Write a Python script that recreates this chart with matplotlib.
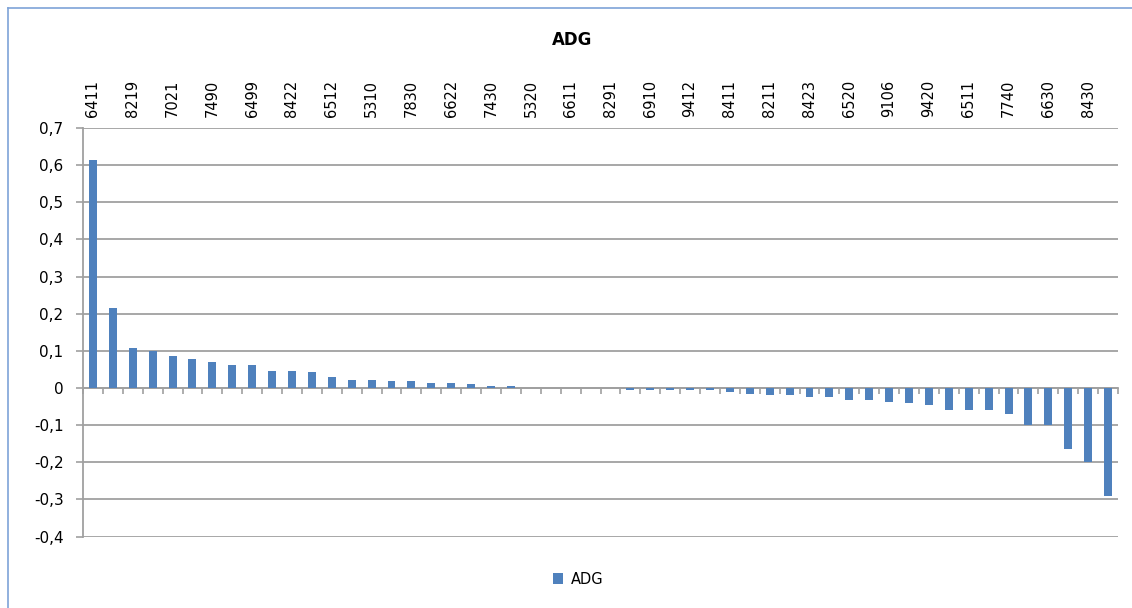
import matplotlib
matplotlib.use('Agg')
import matplotlib.pyplot as plt
from matplotlib.lines import Line2D
from matplotlib.ticker import FuncFormatter
import numpy as np

# category ids, in chart order (only every second one is labelled in the original)
codes = ['6411', '', '8219', '', '7021', '', '7490', '', '6499', '',
	'8422', '', '6512', '', '5310', '', '7830', '', '6622', '',
	'7430', '', '5320', '', '6611', '', '8291', '', '6910', '',
	'9412', '', '8411', '', '8211', '', '8423', '', '6520', '',
	'9106', '', '9420', '', '6511', '', '7740', '', '6630', '',
	'8430', '']
adg = [0.613, 0.215, 0.108, 0.099, 0.087, 0.078, 0.070, 0.061, 0.061, 0.047,
	0.047, 0.043, 0.031, 0.022, 0.022, 0.018, 0.018, 0.013, 0.014, 0.010,
	0.006, 0.006, 0.0, 0.0, 0.0, 0.0, 0.0, -0.006, -0.006, -0.006,
	-0.006, -0.006, -0.011, -0.015, -0.020, -0.020, -0.024, -0.024, -0.032, -0.032,
	-0.037, -0.041, -0.045, -0.058, -0.058, -0.058, -0.071, -0.100, -0.100, -0.165,
	-0.199, -0.291]
y_ticks = [-0.4, -0.3, -0.2, -0.1, 0, 0.1, 0.2, 0.3, 0.4, 0.5, 0.6, 0.7]

ymin, ymax = -0.4, 0.7
n = len(adg)
x = np.arange(n)
grey = '#a0a0a0'

fig = plt.figure(figsize=(11.32, 6.08), dpi=100)
ax = fig.add_axes([83/1132, 1 - 536.6/608, (1118 - 83)/1132, (536.6 - 128)/608])

ax.bar(x, adg, width=0.4, color='#4f81bd', label='ADG', zorder=3)
ax.set_xlim(-0.5, n - 0.5)
ax.set_ylim(ymin, ymax)

ax.set_yticks(y_ticks)
ax.yaxis.set_major_formatter(FuncFormatter(lambda v, p: '0' if abs(v) < 1e-9 else ('%.1f' % v).replace('.', ',')))
ax.tick_params(axis='y', length=5, width=1.2, color=grey, pad=9, labelsize=11)
ax.grid(axis='y', color=grey, linewidth=1.3, zorder=0)

ax.xaxis.tick_top()
ax.set_xticks(x[::2])
ax.set_xticklabels(codes[::2], rotation=90)
ax.tick_params(axis='x', length=0, pad=8, labelsize=10.5)

for s in ['top', 'right', 'bottom']:
	ax.spines[s].set_visible(False)
ax.spines['left'].set_color(grey)
ax.spines['left'].set_linewidth(1.3)

# category axis line at zero with boundary ticks
zero_ax = ax.secondary_xaxis((0 - ymin) / (ymax - ymin))
zero_ax.set_xticks(np.arange(n + 1) - 0.5)
zero_ax.set_xticklabels([])
zero_ax.tick_params(axis='x', direction='out', length=4, width=1.2, color=grey)
zero_ax.spines['bottom'].set_color(grey)
zero_ax.spines['bottom'].set_linewidth(1.3)

fig.text(572/1132, 1 - 40/608, 'ADG', ha='center', va='center', fontsize=12, fontweight='bold')
fig.legend(loc='center', bbox_to_anchor=(578/1132, 1 - 579/608), frameon=False,
	fontsize=10.5, handlelength=0.7, handleheight=0.7, handletextpad=0.5)

# chart area border (only top and left edges fall inside the picture)
bx, by = 7.5/1132, 1 - 7.5/608
fig.add_artist(Line2D([bx, 1.0], [by, by], transform=fig.transFigure, color='#7ea3d8', linewidth=1.2))
fig.add_artist(Line2D([bx, bx], [0.0, by], transform=fig.transFigure, color='#7ea3d8', linewidth=1.2))

plt.savefig('out.png', dpi=100)
